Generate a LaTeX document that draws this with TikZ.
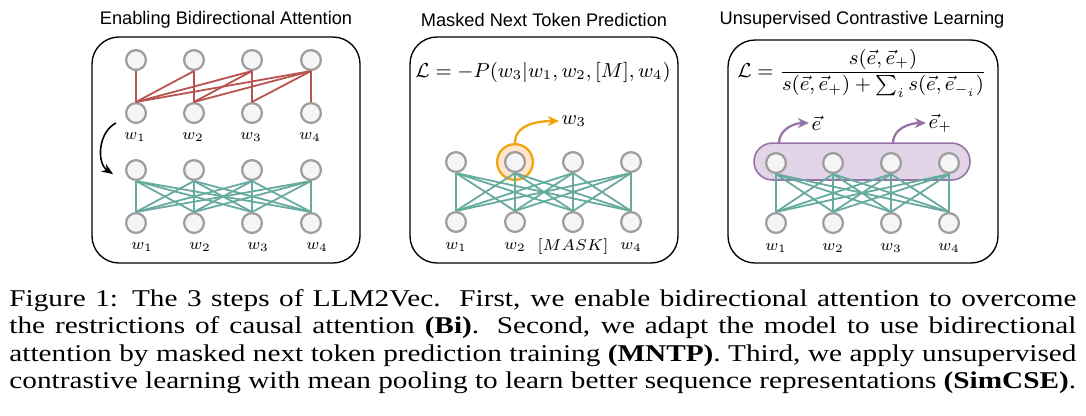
\RequirePackage{fix-cm}
\documentclass[tikz,border=0pt]{standalone}
\usepackage{amsmath}
\usepackage{fontspec}
\newfontfamily\titlefont{Liberation Sans}
\newfontfamily\capfont[FakeStretch=1.215]{Liberation Serif}
\usetikzlibrary{arrows.meta}

\definecolor{tokgray}{HTML}{9E9E9E}
\definecolor{tokfill}{HTML}{F5F5F5}
\definecolor{attred}{HTML}{B85450}
\definecolor{attgreen}{HTML}{67AB9F}
\definecolor{predorange}{HTML}{F0A30A}
\definecolor{predfill}{HTML}{FFE6CC}
\definecolor{poolpurple}{HTML}{9673A6}
\definecolor{poolfill}{HTML}{E1D5E7}

\tikzset{
  tok/.style={circle, draw=tokgray, fill=tokfill, line width=1pt, minimum size=8.8pt, inner sep=0pt},
  panel/.style={draw, line width=0.6pt, rounded corners=12pt},
  causal/.style={attred, line width=0.8pt},
  bidir/.style={attgreen, line width=0.8pt},
  ptitle/.style={font=\titlefont\fontsize{8.1}{9.7}\selectfont},
  wlab/.style={font=\fontsize{7}{8}\selectfont, inner sep=0pt},
  outlab/.style={font=\fontsize{9}{10}\selectfont, inner sep=1pt, anchor=west},
  loss/.style={font=\fontsize{9}{11}\selectfont, inner sep=1pt},
}

\begin{document}
\begin{tikzpicture}[x=0.4444pt, y=-0.4444pt]
\useasboundingbox (0,0) rectangle (1086,415);

%% step 1: bidirectional attention
\node[ptitle] (t1) at (226,20) {Enabling Bidirectional Attention};
\draw[panel] (92,37) rectangle (360,263);
\foreach \i/\x in {1/136,2/194,3/252,4/311}{
  \node[tok] (a\i) at (\x,60) {};
  \node[tok] (b\i) at (\x,113) {};
  \node[tok] (c\i) at (\x,170) {};
  \node[tok] (d\i) at (\x,223) {};
  \node[wlab] (lb\i) at (\x-1,137) {$w_\i$};
  \node[wlab] (ld\i) at (\x+6,247) {$w_\i$};
}
% causal mask
\foreach \i in {1,...,4}
  \foreach \j in {1,...,\i}
    \draw[causal] (a\i.south) -- (b\j.north);
% every token sees every token
\foreach \i in {1,...,4}
  \foreach \j in {1,...,4}
    \draw[bidir] (c\i.south) -- (d\j.north);
\coordinate (swapS) at (116,123);
\coordinate (swapE) at (113,174);
\draw[-{Stealth[length=5pt,width=4pt]}, line width=0.7pt] (swapS) to[bend right=60] (swapE);

%% step 2: MNTP
\node[ptitle] (t2) at (544,20) {Masked Next Token Prediction};
\draw[panel] (410,37) rectangle (678,263);
\node[loss] (f2) at (543,72) {$\mathcal{L} = -P(w_3|w_1, w_2, [M], w_4)$};
\node[circle, draw=predorange, fill=predfill, line width=1pt, minimum size=15.9pt, inner sep=0pt] (hl) at (515,162) {};
\foreach \i/\x in {1/456,2/515,3/573,4/631}{
  \node[tok] (p\i) at (\x,162) {};
  \node[tok] (q\i) at (\x,222) {};
}
\foreach \i in {1,...,4}
  \foreach \j in {1,...,4}
    \draw[bidir] (p\i.south) -- (q\j.north);
\node[wlab] (lq1) at (456,247) {$w_1$};
\node[wlab] (lq2) at (515,247) {$w_2$};
\node[wlab] (lq3) at (573,247) {$[MASK]$};
\node[wlab] (lq4) at (631,247) {$w_4$};
\node[outlab] (w3) at (559,121) {$w_3$};
\draw[predorange, line width=1pt, -{Stealth[length=5pt,width=4.5pt]}] (hl.north) to[out=90,in=180] (w3.west);

%% step 3: SimCSE
\node[ptitle] (t3) at (862,20) {Unsupervised Contrastive Learning};
\draw[panel] (728,40) rectangle (998,263);
\node[loss] (f3) at (862,73) {$\mathcal{L} = \dfrac{s(\vec{e},\vec{e}_+)}{s(\vec{e},\vec{e}_+) + \sum_i s(\vec{e},\vec{e}_{-_i})}$};
\node[draw=poolpurple, fill=poolfill, line width=0.7pt, rounded corners=8.2pt, minimum width=96pt, minimum height=16.4pt] (pool) at (862,161.5) {};
\foreach \i/\x in {1/776,2/833,3/891,4/949}{
  \node[tok] (u\i) at (\x,163) {};
  \node[tok] (v\i) at (\x,223) {};
  \node[wlab] (lv\i) at (\x,248) {$w_\i$};
}
\foreach \i in {1,...,4}
  \foreach \j in {1,...,4}
    \draw[bidir] (u\i.south) -- (v\j.north);
\coordinate (outA) at (779,143);
\coordinate (outB) at (893,143);
\node[outlab] (ev) at (809,123) {$\vec{e}$};
\node[outlab] (evp) at (926,123) {$\vec{e}_+$};
\draw[poolpurple, line width=1pt, -{Stealth[length=5pt,width=4.5pt]}] (outA) to[out=90,in=180] (ev.west);
\draw[poolpurple, line width=1pt, -{Stealth[length=5pt,width=4.5pt]}] (outB) to[out=90,in=180] (evp.west);

%% caption
\node[anchor=north west, inner sep=0pt, text width=474.2pt, align=justify, font=\capfont\fontsize{10.7}{12.15}\selectfont] (cap) at (9,289) {Figure 1: The 3 steps of LLM2Vec.\ \ First, we enable bidirectional attention to overcome\linebreak the restrictions of causal attention \textbf{(Bi)}. Second, we adapt the model to use bidirectional\linebreak attention by masked next token prediction training \textbf{(MNTP)}. Third, we apply unsupervised\linebreak contrastive learning with mean pooling to learn better sequence representations \textbf{(SimCSE)}.};

\end{tikzpicture}
\end{document}
